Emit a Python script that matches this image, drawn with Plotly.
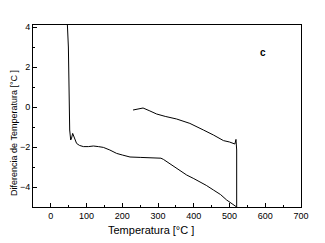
import plotly.graph_objects as go

# Lower curve (heating)
lower_x = [45, 46, 49, 50.8, 52.7, 55.5, 58, 61, 66, 72, 80, 91, 105, 119, 133, 147, 165, 184, 200, 221.5, 250, 277, 296, 308, 315, 330, 343, 360, 380, 400, 417, 435, 455, 475, 492, 505, 512, 518, 520]
lower_y = [4.6, 4.1, 3.0, 1.0, -1.15, -1.65, -1.55, -1.32, -1.6, -1.82, -1.92, -1.98, -1.98, -1.95, -1.98, -2.02, -2.15, -2.32, -2.4, -2.5, -2.52, -2.53, -2.53, -2.56, -2.62, -2.8, -2.98, -3.2, -3.4, -3.58, -3.73, -3.92, -4.15, -4.38, -4.65, -4.8, -4.88, -4.95, -5.0]

# Upper curve (cooling)
upper_x = [230, 245, 258, 275, 296, 320, 352, 389, 410, 427, 455, 483, 500, 511, 515, 518, 520, 520]
upper_y = [-0.15, -0.1, -0.05, -0.18, -0.35, -0.47, -0.6, -0.82, -0.98, -1.15, -1.4, -1.68, -1.75, -1.82, -1.85, -1.62, -2.15, -5.2]

x_ticks = [0, 100, 200, 300, 400, 500, 600, 700]
y_ticks = [-4, -2, 0, 2, 4]

x_title = "Temperatura [°C ]"
y_title = "Diferencia de Temperatura [°C ]"
panel_label = "c"

font_family = "Liberation Sans Narrow, Arial Narrow, Liberation Sans, Arial"

fig = go.Figure()
fig.add_trace(go.Scatter(x=lower_x, y=lower_y, mode="lines",
                         line=dict(color="black", width=1), showlegend=False))
fig.add_trace(go.Scatter(x=upper_x, y=upper_y, mode="lines",
                         line=dict(color="black", width=1), showlegend=False))

fig.add_annotation(x=594, y=2.75, text="<b>" + panel_label + "</b>", showarrow=False,
                   font=dict(family="Liberation Sans", size=10, color="black"))
fig.add_annotation(xref="paper", yref="paper", x=0.44, y=-0.126, text=x_title,
                   showarrow=False, xanchor="center", yanchor="middle",
                   font=dict(size=11, color="black"))
fig.add_annotation(xref="paper", yref="paper", x=-0.069, y=0.404, text=y_title,
                   showarrow=False, xanchor="center", yanchor="middle", textangle=-90,
                   font=dict(size=9, color="black"))

fig.update_layout(
    width=309, height=235,
    margin=dict(l=25, r=16, t=17, b=36),
    paper_bgcolor="white", plot_bgcolor="white",
    font=dict(family=font_family, size=9, color="black"),
    xaxis=dict(range=[-50, 700], tickvals=x_ticks, ticks="inside", ticklen=4,
               tickcolor="black", showline=True, linecolor="black", linewidth=1,
               mirror=True, showgrid=False, zeroline=False, automargin=False,
               minor=dict(tickvals=[-50, 50, 150, 250, 350, 450, 550, 650], ticks="inside", ticklen=2, tickcolor="black"),
               tickfont=dict(size=9)),
    yaxis=dict(range=[-5, 4.1], tickvals=y_ticks, ticks="inside", ticklen=4,
               tickcolor="black", showline=True, linecolor="black", linewidth=1,
               mirror=True, showgrid=False, zeroline=False, automargin=False,
               minor=dict(tickvals=[-3, -1, 1, 3], ticks="inside", ticklen=2, tickcolor="black"),
               tickfont=dict(size=9)),
)

fig.write_html("out.html")
